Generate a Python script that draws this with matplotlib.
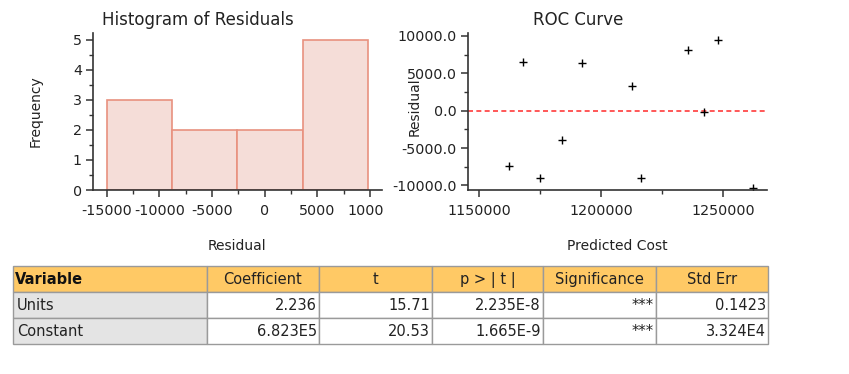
import numpy as np
import matplotlib
matplotlib.use("Agg")
import matplotlib.pyplot as plt
from matplotlib.patches import Rectangle
from matplotlib.transforms import Bbox, TransformedBbox

plt.rcParams['font.family'] = ['DejaVu Sans']

# histogram of residuals
bin_edges = [-15000, -8800, -2600, 3600, 9800]
bin_counts = [3, 2, 2, 5]
hist_xticks = [-15000, -10000, -5000, 0, 5000, 10000]
hist_xlabels = ['-15000', '-10000', '-5000', '0', '5000', '10000']

# residual vs predicted cost
pred_cost = [1162300, 1167900, 1174900, 1183900, 1192100, 1212600,
             1216400, 1235400, 1242300, 1247800, 1262200]
residual = [-7390, 6510, -9000, -3880, 6340, 3300,
            -9000, 8070, -170, 9450, -10370]
roc_xticks = [1150000, 1200000, 1250000]
roc_yticks = [-10000, -5000, 0, 5000, 10000]

# coefficient table
columns = ['Variable', 'Coefficient', 't', 'p > | t |', 'Significance', 'Std Err']
variables = ['Units', 'Constant']
coefficient = ['2.236', '6.823E5']
t_value = ['15.71', '20.53']
p_value = ['2.235E-8', '1.665E-9']
significance = ['***', '***']
std_err = ['0.1423', '3.324E4']

W, H = 849, 374
fig = plt.figure(figsize=(W / 100, H / 100), dpi=100)


def px_axes(x0, y0, x1, y1):
    return fig.add_axes([x0 / W, 1 - y1 / H, (x1 - x0) / W, (y1 - y0) / H])


def style(ax):
    for s in ['top', 'right']:
        ax.spines[s].set_visible(False)
    for s in ['left', 'bottom']:
        ax.spines[s].set_color('#333333')
        ax.spines[s].set_linewidth(1.2)
    ax.tick_params(which='major', direction='out', length=5, width=1.1,
                   color='#333333', labelsize=10.3, labelcolor='#222222')
    ax.tick_params(axis='x', which='major', pad=5)
    ax.tick_params(axis='y', which='major', pad=3)
    ax.tick_params(which='minor', direction='out', length=3, width=1.0, color='#333333')


# --- histogram
ax1 = px_axes(93, 33, 382, 190)
style(ax1)
ax1.bar(bin_edges[:-1], bin_counts, width=np.diff(bin_edges), align='edge',
        color='#f5ddd8', edgecolor='#e8917f', linewidth=1.2)
ax1.set_xlim(-16300, 11130)
ax1.set_ylim(0, 5.22)
ax1.set_xticks(hist_xticks)
ax1.set_xticklabels(hist_xlabels)
ax1.set_xticks(np.arange(-12500, 10000, 5000), minor=True)
ax1.set_yticks(range(6))
ax1.set_yticks(np.arange(0.5, 5.5, 1), minor=True)
ax1.set_xlabel('Residual', fontsize=10, color='#222222')
ax1.xaxis.set_label_coords(0.498, -0.31)
ax1.set_ylabel('Frequency', fontsize=10, color='#222222')
ax1.yaxis.set_label_coords(-0.176, 0.5)
ax1.text(0.363, 1.083, 'Histogram of Residuals', transform=ax1.transAxes,
         ha='center', va='center', fontsize=12, color='#222222')
# the last tick label is cut off at the panel edge
clip = TransformedBbox(Bbox([[0, 0], [383 / W, 1]]), fig.transFigure)
for tick in ax1.xaxis.get_major_ticks():
    tick.label1.set_clip_on(True)
    tick.label1.set_clip_box(clip)

# --- residual plot
ax2 = px_axes(468, 33, 767, 190)
style(ax2)
ax2.axhline(0, color='#ff3b3b', linestyle=(0, (3, 2)), linewidth=1.2)
ax2.plot(pred_cost, residual, linestyle='none', marker='+', color='black',
         markersize=6, markeredgewidth=1.0)
ax2.set_xlim(1145500, 1267900)
ax2.set_ylim(-10616, 10400)
ax2.set_xticks(roc_xticks)
ax2.set_xticklabels([str(v) for v in roc_xticks])
ax2.set_xticks([1175000, 1225000], minor=True)
ax2.set_yticks(roc_yticks)
ax2.set_yticklabels(['%.1f' % v if v >= 0 else '-%.1f' % -v for v in roc_yticks])
ax2.set_yticks(np.arange(-7500, 10000, 2500), minor=True)
ax2.set_xlabel('Predicted Cost', fontsize=10, color='#222222')
ax2.xaxis.set_label_coords(0.498, -0.31)
ax2.set_ylabel('Residual', fontsize=10, color='#222222')
ax2.yaxis.set_label_coords(-0.155, 0.53)
ax2.text(0.368, 1.083, 'ROC Curve', transform=ax2.transAxes,
         ha='center', va='center', fontsize=12, color='#222222')

# --- table
tab = fig.add_axes([0, 0, 1, 1])
tab.set_xlim(0, W)
tab.set_ylim(H, 0)
tab.axis('off')
col_x = [13, 207, 319, 432, 543, 656, 768]
row_y = [266, 292, 318, 344]
body = [variables, coefficient, t_value, p_value, significance, std_err]

for c in range(len(columns)):
    x0, x1 = col_x[c], col_x[c + 1]
    tab.add_patch(Rectangle((x0, row_y[0]), x1 - x0, row_y[1] - row_y[0],
                            facecolor='#ffc965', edgecolor='#9a9a9a', linewidth=1))
    if c == 0:
        tab.text(x0 + 2, (row_y[0] + row_y[1]) / 2 + 0.5, columns[c], ha='left',
                 va='center', fontsize=10.5, fontweight='bold', color='#111111')
    else:
        tab.text((x0 + x1) / 2, (row_y[0] + row_y[1]) / 2 + 0.5, columns[c],
                 ha='center', va='center', fontsize=10.5, color='#222222')
    for r in range(len(variables)):
        y0, y1 = row_y[r + 1], row_y[r + 2]
        fc = '#e4e4e4' if c == 0 else 'white'
        tab.add_patch(Rectangle((x0, y0), x1 - x0, y1 - y0,
                                facecolor=fc, edgecolor='#9a9a9a', linewidth=1))
        if c == 0:
            tab.text(x0 + 4, (y0 + y1) / 2 + 0.5, body[c][r], ha='left',
                     va='center', fontsize=10.5, color='#222222')
        else:
            tab.text(x1 - 2, (y0 + y1) / 2 + 0.5, body[c][r], ha='right',
                     va='center', fontsize=10.5, color='#222222')

fig.savefig('out.png', dpi=100)
